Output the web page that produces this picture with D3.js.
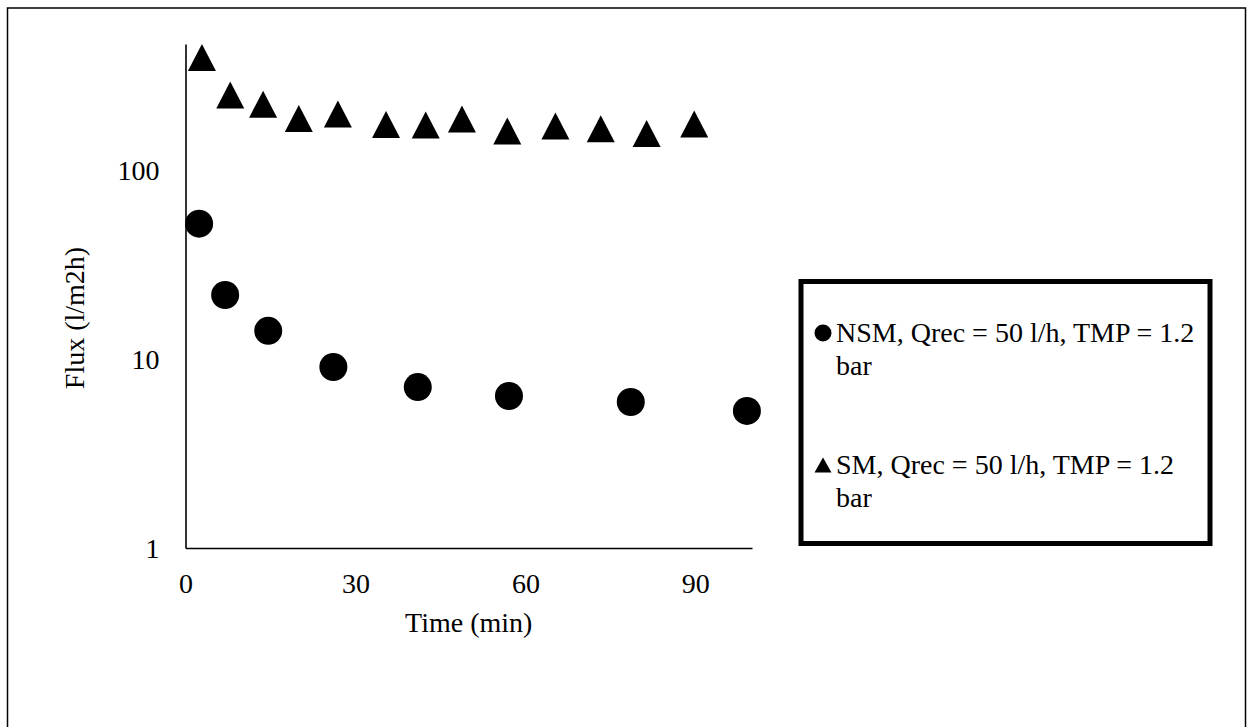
<!DOCTYPE html>
<html>
<head>
<meta charset="utf-8">
<script src="https://cdn.jsdelivr.net/npm/d3@7"></script>
<style>
  body { margin: 0; background: #fff; }
  text { font-family: "Liberation Serif", "Times New Roman", serif; fill: #000; }
</style>
</head>
<body>
<div id="chart"></div>
<script>
// data
var nsmTime = [2.4, 7.0, 14.6, 26.1, 41.0, 57.1, 78.6, 99.1];
var nsmFlux = [52, 21.8, 14.1, 9.07, 7.1, 6.37, 5.92, 5.31];

var smTime = [2.9, 7.9, 13.7, 20.0, 26.9, 35.4, 42.4, 48.8, 56.8, 65.3, 73.3, 81.4, 89.8];
var smFlux = [394, 249, 223, 187, 198, 174, 173, 186, 161, 171, 165, 156, 175];

var xTicks = [0, 30, 60, 90];
var yTicks = [1, 10, 100];

var legendLabels = [
  ["NSM, Qrec = 50 l/h, TMP = 1.2", "bar"],
  ["SM, Qrec = 50 l/h, TMP = 1.2", "bar"]
];

var svgWidth = 1248;
var svgHeight = 727;
var fontSize = "28px";

var margin = {top: 44, right: 496, bottom: 179, left: 185.5};
var width = svgWidth - margin.left - margin.right;
var height = svgHeight - margin.top - margin.bottom;

var svg = d3.select("#chart")
  .append("svg")
  .attr("width", svgWidth)
  .attr("height", svgHeight);

// outer frame
svg.append("rect")
  .attr("x", 7.5).attr("y", 8)
  .attr("width", 1238).attr("height", 740)
  .attr("fill", "none")
  .attr("stroke", "#000")
  .attr("stroke-width", 1.5);

var chartGroup = svg.append("g")
  .attr("transform", `translate(${margin.left}, ${margin.top})`);

var x = d3.scaleLinear().domain([0, 100]).range([0, width]);
var y = d3.scaleLog().domain([1, 464]).range([height, 0]);

// excel-like triangle: w x h box centred on the point
function triangle(w, h) {
  return {
    draw: function(ctx) {
      ctx.moveTo(0, -h / 2);
      ctx.lineTo(w / 2, h / 2);
      ctx.lineTo(-w / 2, h / 2);
      ctx.closePath();
    }
  };
}

// axes: lines only, no tick marks
var bottomAxis = d3.axisBottom(x).tickValues(xTicks).tickSize(0).tickPadding(0);
var leftAxis = d3.axisLeft(y).tickValues(yTicks).tickSize(0).tickPadding(26)
  .tickFormat(d3.format("d"));

var xg = chartGroup.append("g")
  .attr("transform", `translate(0, ${height})`)
  .call(bottomAxis);
var yg = chartGroup.append("g").call(leftAxis);

[xg, yg].forEach(function(g) {
  g.select(".domain").attr("stroke", "#000").attr("stroke-width", 1.6);
  g.selectAll("text").attr("font-size", fontSize)
    .attr("font-family", "Liberation Serif, Times New Roman, serif");
});
xg.selectAll("text").attr("dy", 0).attr("y", 45);
yg.selectAll("text").attr("dy", "0.33em");

// NSM circles
var nsm = nsmTime.map(function(t, i) { return {t: t, f: nsmFlux[i]}; });
chartGroup.selectAll("circle.nsm")
  .data(nsm)
  .enter()
  .append("circle")
  .attr("class", "nsm")
  .attr("cx", d => x(d.t))
  .attr("cy", d => y(d.f))
  .attr("r", 14)
  .attr("fill", "#000");

// SM triangles
var sm = smTime.map(function(t, i) { return {t: t, f: smFlux[i]}; });
var tri = d3.symbol().type(triangle(28, 27));
chartGroup.selectAll("path.sm")
  .data(sm)
  .enter()
  .append("path")
  .attr("class", "sm")
  .attr("d", tri)
  .attr("transform", d => `translate(${x(d.t)}, ${y(d.f)})`)
  .attr("fill", "#000");

// axis titles
chartGroup.append("text")
  .attr("transform", `translate(${width / 2}, ${height + 84})`)
  .attr("text-anchor", "middle")
  .attr("font-size", fontSize)
  .text("Time (min)");

svg.append("text")
  .attr("transform", "translate(84, 318) rotate(-90)")
  .attr("text-anchor", "middle")
  .attr("font-size", fontSize)
  .text("Flux (l/m2h)");

// legend
var legend = svg.append("g");
legend.append("rect")
  .attr("x", 801).attr("y", 281.5)
  .attr("width", 409).attr("height", 262)
  .attr("fill", "#fff")
  .attr("stroke", "#000")
  .attr("stroke-width", 5);

var rowY = [333, 465];
legend.append("circle")
  .attr("cx", 823).attr("cy", rowY[0]).attr("r", 8.5).attr("fill", "#000");
legend.append("path")
  .attr("d", d3.symbol().type(triangle(17, 15)))
  .attr("transform", `translate(823, ${rowY[1]})`)
  .attr("fill", "#000");

legendLabels.forEach(function(lines, i) {
  var t = legend.append("text")
    .attr("x", 836)
    .attr("y", rowY[i])
    .attr("font-size", fontSize);
  lines.forEach(function(s, j) {
    t.append("tspan")
      .attr("x", 836)
      .attr("dy", j === 0 ? "0.33em" : "33px")
      .text(s);
  });
});
</script>
</body>
</html>
